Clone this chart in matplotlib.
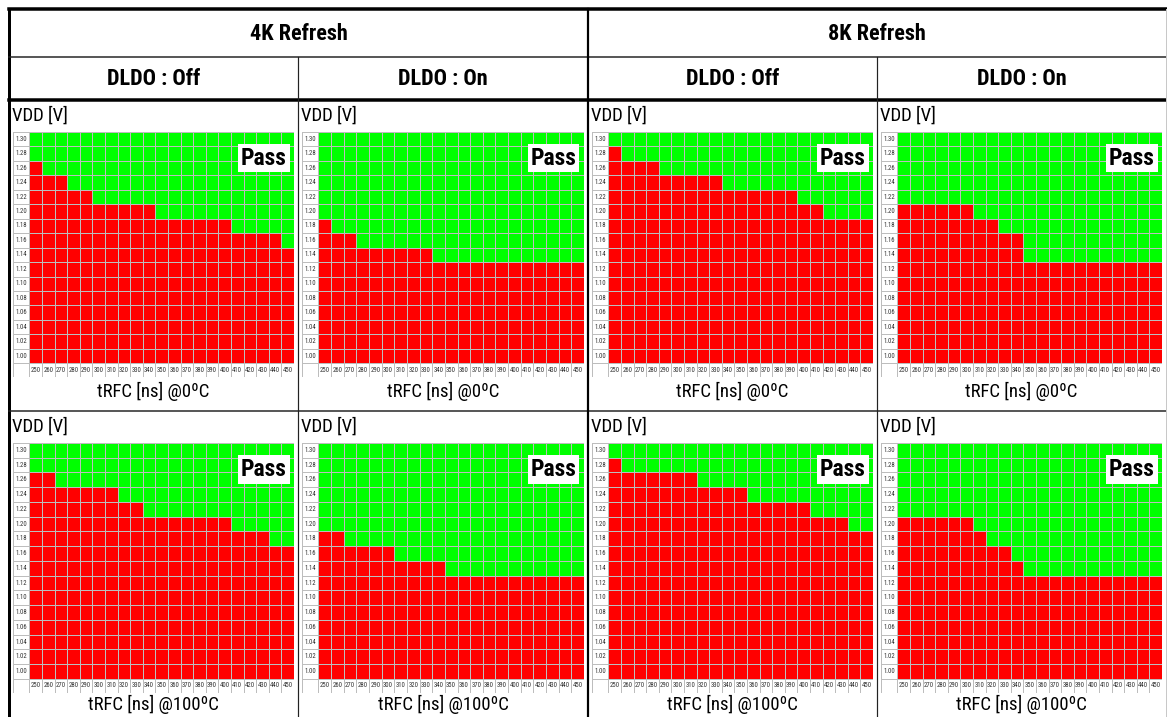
import numpy as np
import matplotlib
matplotlib.use("Agg")
import matplotlib.pyplot as plt
from matplotlib.colors import ListedColormap
from matplotlib.lines import Line2D

NARROW = ["Roboto Condensed", "Liberation Sans Narrow", "Roboto", "DejaVu Sans"]

# shmoo axes
trfc = [250, 260, 270, 280, 290, 300, 310, 320, 330, 340, 350,
        360, 370, 380, 390, 400, 410, 420, 430, 440, 450]
vdd = [1.00, 1.02, 1.04, 1.06, 1.08, 1.10, 1.12, 1.14,
       1.16, 1.18, 1.20, 1.22, 1.24, 1.26, 1.28, 1.30]

# lowest passing VDD for each tRFC column
r4k_off_0c = [1.28, 1.26, 1.26, 1.24, 1.24, 1.22, 1.22, 1.22, 1.22, 1.22, 1.20,
              1.20, 1.20, 1.20, 1.20, 1.20, 1.18, 1.18, 1.18, 1.18, 1.16]
r4k_on_0c = [1.20, 1.18, 1.18, 1.16, 1.16, 1.16, 1.16, 1.16, 1.16, 1.14, 1.14,
             1.14, 1.14, 1.14, 1.14, 1.14, 1.14, 1.14, 1.14, 1.14, 1.14]
r8k_off_0c = [1.30, 1.28, 1.28, 1.28, 1.26, 1.26, 1.26, 1.26, 1.26, 1.24, 1.24,
              1.24, 1.24, 1.24, 1.24, 1.22, 1.22, 1.20, 1.20, 1.20, 1.20]
r8k_on_0c = [1.22, 1.22, 1.22, 1.22, 1.22, 1.22, 1.20, 1.20, 1.18, 1.18, 1.14,
             1.14, 1.14, 1.14, 1.14, 1.14, 1.14, 1.14, 1.14, 1.14, 1.14]
r4k_off_100c = [1.28, 1.28, 1.26, 1.26, 1.26, 1.26, 1.26, 1.24, 1.24, 1.22, 1.22,
                1.22, 1.22, 1.22, 1.22, 1.22, 1.20, 1.20, 1.20, 1.18, 1.18]
r4k_on_100c = [1.20, 1.20, 1.18, 1.18, 1.18, 1.18, 1.16, 1.16, 1.16, 1.16, 1.14,
               1.14, 1.14, 1.14, 1.14, 1.14, 1.14, 1.14, 1.14, 1.14, 1.14]
r8k_off_100c = [1.30, 1.28, 1.28, 1.28, 1.28, 1.28, 1.28, 1.26, 1.26, 1.26, 1.26,
                1.24, 1.24, 1.24, 1.24, 1.24, 1.22, 1.22, 1.22, 1.20, 1.20]
r8k_on_100c = [1.22, 1.22, 1.22, 1.22, 1.22, 1.22, 1.20, 1.18, 1.18, 1.16, 1.14,
               1.14, 1.14, 1.14, 1.14, 1.14, 1.14, 1.14, 1.14, 1.14, 1.14]

refresh_titles = ["4K Refresh", "8K Refresh"]
dldo_titles = ["DLDO : Off", "DLDO : On", "DLDO : Off", "DLDO : On"]
temp_labels = ["tRFC [ns] @0\u00baC", "tRFC [ns] @100\u00baC"]
panels = [[r4k_off_0c, r4k_on_0c, r8k_off_0c, r8k_on_0c],
          [r4k_off_100c, r4k_on_100c, r8k_off_100c, r8k_on_100c]]

W, H = 1167, 717
fig = plt.figure(figsize=(W / 100, H / 100), dpi=100)
fig.patch.set_facecolor("white")

# overlay in pixel coordinates for the table frame and headers
base = fig.add_axes([0, 0, 1, 1])
base.set_xlim(0, W)
base.set_ylim(H, 0)
base.axis("off")

def px(w):
    return w * 72 / 100

col_edges = [(9, 298), (298, 588), (588, 877), (877, 1166)]
# cell top, cell bottom, grid top, label row bottom, x-label centre
row_cells = [(100, 411, 132, 377, 391), (411, 717, 443, 693, 704)]

# frame
base.add_line(Line2D([9, W], [9, 9], color="black", lw=px(3.5)))
base.add_line(Line2D([9, 9], [9, H], color="black", lw=px(3)))
base.add_line(Line2D([9, W], [57, 57], color="#222222", lw=px(1.5)))
base.add_line(Line2D([9, W], [100, 100], color="black", lw=px(3.5)))
base.add_line(Line2D([9, W], [411, 411], color="#222222", lw=px(1.5)))
base.add_line(Line2D([588, 588], [9, H], color="black", lw=px(2.2)))
for x in (298, 877):
    base.add_line(Line2D([x, x], [57, H], color="#222222", lw=px(1.2)))
base.add_line(Line2D([1166, 1166], [9, H], color="#c8c8c8", lw=px(1)))

# headers
for i, t in enumerate(refresh_titles):
    xc = (col_edges[2 * i][0] + col_edges[2 * i + 1][1]) / 2
    base.text(xc, 34, t, ha="center", va="center", fontsize=16,
              fontweight="bold", family=NARROW)
for j, t in enumerate(dldo_titles):
    xc = sum(col_edges[j]) / 2
    base.text(xc, 79, t, ha="center", va="center", fontsize=16,
              fontweight="bold", family=NARROW)

cmap = ListedColormap(["#ff0000", "#00ff00", "#ffffff"])
lab_cols = 1.3
lab_rows = 0.95
xe = np.concatenate([[trfc[0] - 5 - 10 * lab_cols], np.array(trfc) - 5, [trfc[-1] + 5]])
ye = np.concatenate([[vdd[0] - 0.01 - 0.02 * lab_rows], np.array(vdd) - 0.01, [vdd[-1] + 0.01]])
v = np.array(vdd)

for r, (cell_top, cell_bot, g_top, g_bot, xl_y) in enumerate(row_cells):
    for c, (cl, cr) in enumerate(col_edges):
        thr = np.array(panels[r][c])
        passed = (v[:, None] >= thr[None, :] - 1e-6).astype(float)
        z = np.full((len(vdd) + 1, len(trfc) + 1), 2.0)
        z[1:, 1:] = passed

        left, right = cl + 4, cr - 4
        ax = fig.add_axes([left / W, 1 - g_bot / H, (right - left) / W, (g_bot - g_top) / H])
        ax.pcolormesh(xe, ye, z, cmap=cmap, vmin=0, vmax=2,
                      edgecolors="#bdbdbd", linewidth=0.7)
        ax.set_xlim(xe[0], xe[-1])
        ax.set_ylim(ye[0], ye[-1])
        ax.axis("off")

        xlab = (xe[0] + xe[1]) / 2
        ylab = (ye[0] + ye[1]) / 2
        for t in trfc:
            ax.text(t, ylab, str(t), ha="center", va="center", fontsize=4.9,
                    color="#333333", family=NARROW)
        for vv in vdd:
            ax.text(xlab, vv, f"{vv:.2f}", ha="center", va="center", fontsize=4.9,
                    color="#333333", family=NARROW)

        ax.text(431, 1.274, "Pass", ha="center", va="center", fontsize=17,
                fontweight="bold", family=NARROW,
                bbox=dict(facecolor="white", edgecolor="none", pad=2))

        base.text(cl + 3, cell_top + 16, "VDD [V]", ha="left", va="center",
                  fontsize=13.5, family=NARROW)
        base.text((cl + cr) / 2, xl_y, temp_labels[r], ha="center",
                  va="center", fontsize=13.5, family=NARROW)

fig.savefig("out.png", dpi=100, facecolor="white")
